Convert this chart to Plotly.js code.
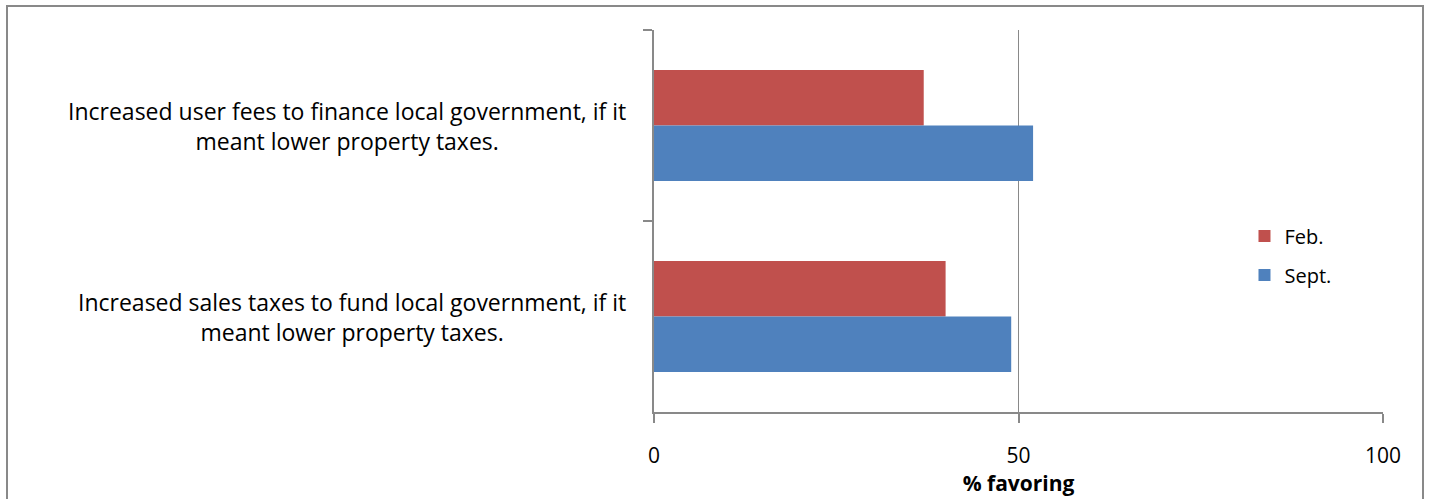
<!DOCTYPE html>
<html>
<head>
<meta charset="utf-8">
<script src="https://cdn.plot.ly/plotly-3.0.1.min.js"></script>
<style>
  html, body { margin: 0; padding: 0; background: #fff; }
  #wrap { position: relative; width: 1433px; height: 499px; overflow: hidden; }
  #chart { width: 1433px; height: 499px; }
  #frame { position: absolute; left: 6px; top: 5px; width: 1418px; height: 520px;
           border: 2px solid #898989; pointer-events: none; box-sizing: border-box; }
</style>
</head>
<body>
<div id="wrap">
  <div id="chart"></div>
  <div id="frame"></div>
</div>
<script>
// Data
const categories = [
  "Increased user fees to finance local government, if it<br>meant lower property taxes.",
  "Increased sales taxes to fund local government, if it<br>meant lower property taxes."
];
const seriesNames = ["Feb.", "Sept."];
const febValues = [37, 40];
const septValues = [52, 49];
const xTickVals = [0, 50, 100];
const xTitle = "% favoring";

const FONT = "Open Sans, Liberation Sans, Arial, sans-serif";
const gray = "#898989";

const traces = [
  { type: "bar", orientation: "h", name: seriesNames[0], y: categories, x: febValues,
    marker: { color: "#C0504D" }, legendgroup: "a", hoverinfo: "x+name" },
  { type: "bar", orientation: "h", name: seriesNames[1], y: categories, x: septValues,
    marker: { color: "#4F81BD" }, legendgroup: "b", hoverinfo: "x+name" }
];

const annotations = categories.map(c => ({
  xref: "paper", yref: "y", x: -0.036, y: c, xanchor: "right", yanchor: "middle",
  text: c, align: "center", showarrow: false,
  font: { family: FONT, size: 23, color: "#000" }
}));

const layout = {
  width: 1433, height: 499,
  margin: { l: 654, r: 50, t: 30, b: 87 },
  paper_bgcolor: "#fff", plot_bgcolor: "#fff",
  barmode: "group", bargap: 0.42, bargroupgap: 0,
  showlegend: true,
  legend: { x: 0.81, xanchor: "left", y: 0.41, yanchor: "middle",
            font: { family: FONT, size: 20, color: "#000" },
            tracegroupgap: 10, bgcolor: "rgba(0,0,0,0)" },
  xaxis: {
    range: [0, 100], tickvals: xTickVals, ticktext: xTickVals.map(String),
    showgrid: true, gridcolor: gray, gridwidth: 1.5,
    showline: true, linecolor: gray, linewidth: 2,
    ticks: "outside", ticklen: 9, tickwidth: 2, tickcolor: gray,
    zeroline: false, ticklabelstandoff: 15,
    tickfont: { family: FONT, size: 21, color: "#000" },
    title: { text: "<b>" + xTitle + "</b>", font: { family: FONT, size: 21, color: "#000" }, standoff: 1 }
  },
  yaxis: {
    type: "category", autorange: "reversed",
    showline: true, linecolor: gray, linewidth: 2,
    ticks: "outside", ticklen: 9, tickwidth: 2, tickcolor: gray,
    tickson: "boundaries", showticklabels: false, showgrid: false, zeroline: false
  },
  annotations: annotations
};

Plotly.newPlot("chart", traces, layout, { displayModeBar: false, staticPlot: true });
</script>
</body>
</html>
